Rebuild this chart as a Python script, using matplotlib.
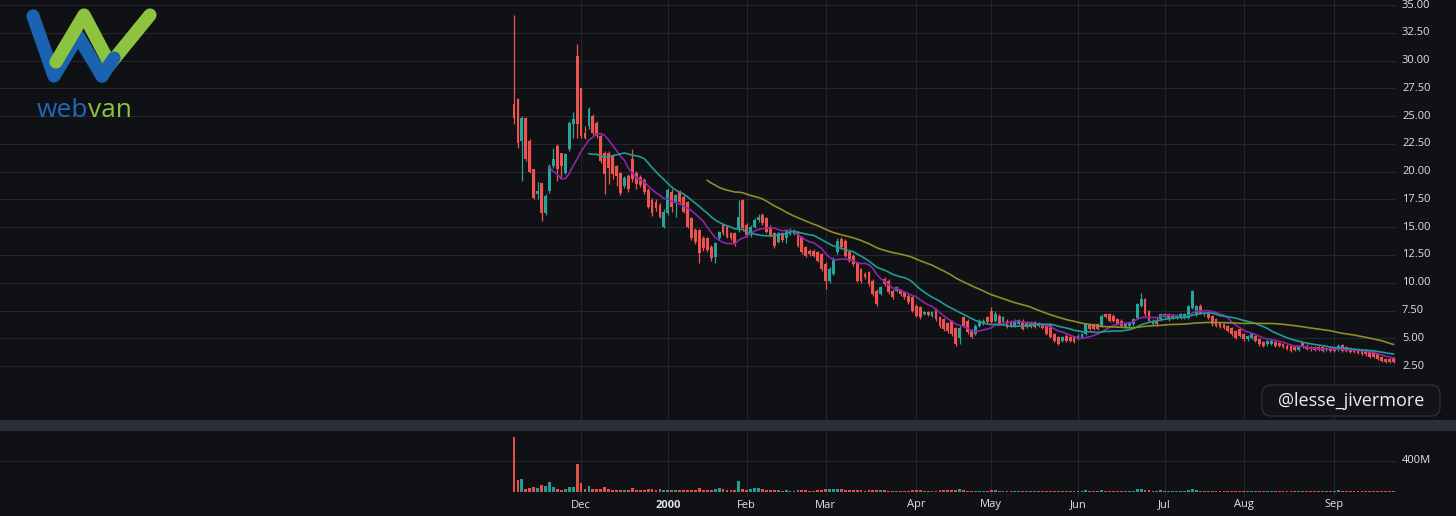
import numpy as np
import pandas as pd
import matplotlib
matplotlib.use("Agg")
import matplotlib.pyplot as plt
from matplotlib.patches import Rectangle, FancyBboxPatch
from matplotlib.transforms import blended_transform_factory

# Webvan (WBVN) daily bars, Nov 5 1999 -> Sep 25 2000
# trading days per month, label shown at first bar of each month
month_labels = ["", "Dec", "2000", "Feb", "Mar", "Apr", "May", "Jun", "Jul", "Aug", "Sep"]
month_bars = [17, 22, 20, 20, 23, 19, 22, 22, 20, 23, 16]

opens = [
    26.05, 26.56, 22.75, 24.85, 22.75, 20.2, 18.0, 18.95, 16.3, 18.25, 20.5, 22.3, 21.65, 19.9, 22.0, 24.25, 30.4,
    27.5, 23.5, 24.1, 25.0, 24.4, 23.2, 21.7, 21.7, 21.4, 20.5, 19.9, 18.7, 19.6, 21.1, 19.9, 19.55, 19.25, 18.35, 17.45, 17.3, 17.0, 15.05,
    16.25, 18.2, 17.15, 18.2, 17.75, 17.3, 15.8, 14.75, 14.75, 14.0, 14.0, 13.25, 12.35, 14.0, 15.2, 15.05, 14.45, 14.5, 14.75, 17.45,
    15.2, 14.3, 15.05, 15.65, 16.1, 15.8, 15.05, 14.45, 13.7, 14.45, 14.0, 14.4, 14.4, 14.55, 14.1, 13.2, 12.9, 12.9, 12.75, 12.6,
    11.7, 10.2, 10.8, 12.75, 13.95, 13.8, 12.75, 12.45, 11.75, 11.25, 10.8, 10.95, 10.2, 9.3, 9.0, 10.35, 10.2, 9.3, 9.3, 9.35, 9.15, 8.85, 8.7,
    7.95, 7.8, 7.2, 7.35, 7.05, 7.65, 6.9, 6.7, 6.4, 6.55, 5.95, 5.0, 6.9, 6.6, 5.7, 5.4, 6.15, 6.3, 6.9,
    7.5, 6.6, 7.05, 6.45, 6.6, 6.55, 6.15, 6.3, 6.6, 6.45, 6.05, 6.45, 6.15, 6.3, 6.3, 6.3, 5.4, 5.1, 4.8, 5.25, 5.15, 5.15,
    4.95, 5.1, 5.4, 6.3, 6.25, 6.25, 6.15, 7.2, 7.2, 7.05, 6.75, 6.6, 6.05, 6.1, 6.25, 6.85, 7.9, 8.5, 7.45, 6.3, 6.6, 6.7,
    6.9, 7.15, 6.8, 6.8, 6.85, 6.8, 6.85, 7.75, 7.15, 7.95, 7.15, 7.3, 7.0, 6.7, 6.4, 6.25, 6.1, 5.95, 5.65, 5.8,
    5.35, 4.9, 5.05, 5.2, 4.95, 4.65, 4.45, 4.5, 4.65, 4.6, 4.5, 4.35, 4.3, 4.2, 3.95, 4.55, 4.35, 4.25, 4.2, 4.2, 4.2, 3.95, 4.1,
    4.1, 3.95, 4.4, 4.2, 4.1, 4.05, 4.05, 3.95, 3.9, 3.85, 3.75, 3.6, 3.3, 3.15, 3.15, 3.2,
]
highs = [
    34.06, 26.65, 25.0, 24.95, 22.9, 20.25, 19.1, 19.0, 18.0, 20.65, 22.15, 22.45, 21.7, 21.65, 24.55, 25.4, 31.45,
    27.55, 24.1, 25.8, 25.2, 24.6, 23.35, 21.85, 21.9, 21.5, 20.6, 20.0, 19.6, 19.8, 22.0, 20.1, 19.7, 19.4, 18.5, 17.6, 17.5, 17.2, 16.6,
    18.5, 18.4, 18.0, 18.35, 17.9, 17.4, 15.9, 14.9, 14.85, 14.2, 14.1, 13.4, 13.7, 14.7, 15.4, 15.2, 14.6, 14.6, 17.45, 17.5,
    15.35, 15.2, 15.8, 16.2, 16.25, 15.9, 15.2, 14.55, 14.6, 14.6, 14.85, 14.9, 14.8, 14.65, 14.2, 13.3, 13.0, 13.05, 12.85, 12.7,
    11.85, 11.4, 12.3, 14.0, 14.1, 13.9, 12.9, 12.6, 11.9, 11.35, 10.95, 11.05, 10.3, 9.4, 9.75, 10.5, 10.3, 9.4, 9.7, 9.45, 9.25, 8.95, 8.8,
    8.05, 7.9, 7.45, 7.45, 7.45, 7.75, 7.0, 6.8, 6.5, 6.65, 6.05, 6.1, 7.0, 6.7, 5.8, 6.25, 6.7, 6.7, 7.0,
    7.8, 7.5, 7.15, 7.0, 6.7, 6.65, 6.7, 6.75, 6.7, 6.55, 6.55, 6.55, 6.45, 6.4, 6.4, 6.4, 5.5, 5.2, 5.2, 5.35, 5.25, 5.25,
    5.35, 5.5, 6.4, 6.4, 6.35, 6.35, 7.15, 7.3, 7.3, 7.15, 6.85, 6.7, 6.45, 6.5, 6.8, 8.2, 9.1, 8.6, 7.55, 6.7, 6.9, 7.3,
    7.3, 7.25, 7.1, 7.15, 7.25, 7.25, 8.0, 9.35, 8.0, 8.05, 7.4, 7.4, 7.1, 6.8, 6.5, 6.35, 6.2, 6.05, 5.75, 5.9,
    5.45, 5.3, 5.45, 5.3, 5.05, 4.75, 4.85, 4.9, 4.75, 4.7, 4.6, 4.45, 4.4, 4.3, 4.35, 4.65, 4.45, 4.35, 4.3, 4.3, 4.3, 4.25, 4.2,
    4.2, 4.45, 4.5, 4.3, 4.2, 4.15, 4.15, 4.05, 4.0, 3.95, 3.85, 3.7, 3.4, 3.25, 3.25, 3.3,
]
lows = [
    24.25, 22.15, 19.15, 20.95, 19.9, 17.5, 17.5, 15.55, 16.1, 18.1, 20.35, 19.15, 19.45, 19.75, 21.85, 23.05, 23.0,
    23.05, 22.9, 23.8, 23.3, 23.0, 20.8, 17.95, 18.85, 19.3, 18.7, 17.9, 18.5, 18.2, 19.1, 18.4, 18.6, 18.0, 16.7, 16.0, 16.5, 15.8, 14.9,
    16.1, 16.4, 15.95, 17.1, 16.25, 14.9, 13.85, 13.5, 11.75, 12.9, 12.8, 12.0, 11.75, 13.85, 14.3, 14.0, 13.85, 13.35, 14.6, 14.7,
    14.1, 14.15, 14.9, 15.5, 15.2, 14.45, 14.15, 13.1, 13.55, 13.7, 13.6, 14.3, 14.3, 13.2, 12.6, 12.3, 12.4, 12.3, 11.85, 11.1,
    9.4, 10.0, 10.7, 12.6, 13.0, 12.3, 11.85, 11.55, 10.05, 10.0, 10.35, 9.75, 8.85, 7.9, 8.9, 9.75, 9.0, 8.55, 9.2, 8.8, 8.55, 8.1, 7.35,
    6.9, 6.75, 7.1, 7.0, 6.95, 6.6, 5.95, 5.65, 5.5, 5.2, 4.3, 4.5, 6.0, 5.4, 5.0, 5.3, 6.05, 6.2, 6.35,
    6.35, 6.5, 6.2, 6.35, 5.9, 6.05, 6.05, 6.2, 5.75, 5.9, 5.95, 5.9, 6.05, 5.85, 5.3, 5.0, 4.7, 4.4, 4.7, 4.7, 4.7, 4.55,
    4.85, 5.0, 5.3, 5.75, 5.75, 5.75, 6.05, 6.8, 6.5, 6.5, 6.2, 6.05, 5.95, 6.0, 6.15, 6.75, 7.8, 7.05, 6.45, 6.2, 6.15, 6.6,
    6.8, 6.6, 6.7, 6.7, 6.75, 6.7, 6.75, 7.65, 7.05, 7.2, 7.05, 6.75, 6.15, 6.0, 5.9, 5.8, 5.6, 5.25, 4.95, 5.1,
    4.8, 4.8, 4.95, 4.65, 4.35, 4.25, 4.35, 4.4, 4.25, 4.2, 4.1, 3.95, 3.75, 3.85, 3.85, 4.1, 3.95, 3.9, 3.85, 3.85, 3.8, 3.85, 3.8,
    3.75, 3.85, 3.8, 3.8, 3.65, 3.65, 3.6, 3.5, 3.45, 3.25, 3.25, 3.05, 2.85, 2.75, 2.75, 2.75,
]
closes = [
    24.85, 22.6, 24.85, 21.1, 20.0, 17.65, 18.25, 16.25, 17.8, 20.5, 21.1, 20.2, 20.5, 21.55, 24.4, 24.7, 24.25,
    23.2, 23.05, 25.6, 23.5, 23.2, 20.95, 19.75, 20.35, 19.75, 19.6, 18.1, 19.45, 18.4, 19.3, 18.85, 18.8, 18.2, 16.85, 16.25, 16.7, 15.95, 16.4,
    18.35, 16.85, 17.9, 17.3, 16.4, 15.05, 14.0, 13.7, 12.65, 13.1, 12.95, 12.2, 13.55, 14.6, 14.45, 14.15, 14.0, 13.5, 15.95, 14.9,
    14.3, 15.05, 15.65, 15.95, 15.35, 14.6, 14.3, 13.3, 14.45, 13.85, 14.7, 14.7, 14.65, 13.35, 12.75, 12.45, 12.55, 12.45, 12.0, 11.25,
    10.2, 11.25, 12.15, 13.8, 13.2, 12.45, 12.0, 11.7, 10.2, 10.2, 10.5, 9.9, 9.0, 8.1, 9.65, 9.9, 9.15, 8.7, 9.6, 8.95, 8.7, 8.25, 7.5,
    7.05, 6.9, 7.35, 7.1, 7.35, 6.75, 6.1, 5.8, 5.65, 5.35, 4.45, 5.9, 6.15, 5.55, 5.1, 6.15, 6.6, 6.6, 6.45,
    6.45, 7.2, 6.3, 6.9, 6.0, 6.15, 6.6, 6.65, 5.85, 6.0, 6.45, 6.0, 6.35, 5.95, 5.4, 5.1, 4.8, 4.5, 5.1, 4.8, 4.8, 4.65,
    5.25, 5.4, 6.3, 5.85, 5.85, 5.85, 7.05, 6.9, 6.6, 6.6, 6.3, 6.15, 6.35, 6.4, 6.7, 8.05, 8.5, 7.15, 6.55, 6.6, 6.25, 7.2,
    7.2, 6.7, 7.0, 7.05, 7.15, 7.15, 7.9, 9.25, 7.9, 7.3, 7.3, 6.85, 6.25, 6.1, 6.0, 5.9, 5.7, 5.35, 5.05, 5.2,
    4.9, 5.2, 5.35, 4.75, 4.45, 4.35, 4.75, 4.8, 4.35, 4.3, 4.2, 4.05, 3.85, 3.95, 4.3, 4.2, 4.05, 4.0, 3.95, 3.95, 3.9, 4.15, 3.9,
    3.85, 4.35, 3.9, 3.9, 3.75, 3.75, 3.7, 3.6, 3.55, 3.35, 3.35, 3.15, 2.95, 2.85, 2.85, 2.85,
]
# volume in millions of shares
volumes = [
    710, 150, 172, 43, 56, 65, 52, 95, 77, 125, 65, 34, 22, 34, 60, 60, 365,
    116, 43, 73, 39, 43, 43, 65, 35, 28, 30, 25, 30, 22, 52, 25, 22, 25, 35, 40, 30, 35, 28,
    30, 25, 22, 20, 22, 30, 32, 28, 52, 30, 25, 28, 40, 52, 35, 25, 20, 22, 146, 43,
    30, 45, 50, 48, 40, 25, 20, 22, 20, 18, 20, 18, 18, 22, 25, 20, 18, 18, 22, 25,
    43, 45, 45, 40, 35, 25, 20, 20, 25, 22, 18, 25, 28, 30, 22, 20, 18, 18, 15, 15, 15, 18, 22,
    25, 22, 18, 16, 16, 18, 22, 22, 20, 22, 30, 39, 22, 18, 18, 18, 16, 16, 16,
    20, 22, 16, 15, 15, 15, 15, 15, 16, 15, 15, 15, 13, 13, 15, 18, 18, 18, 15, 15, 13, 15,
    15, 16, 22, 16, 15, 15, 25, 16, 16, 15, 15, 15, 15, 15, 16, 45, 40, 30, 22, 18, 16, 30,
    16, 15, 15, 15, 15, 16, 22, 39, 22, 18, 15, 15, 16, 15, 15, 15, 15, 16, 16, 15,
    15, 13, 13, 13, 15, 13, 13, 13, 13, 13, 13, 13, 15, 13, 13, 13, 13, 12, 12, 12, 12, 12, 12,
    12, 30, 15, 12, 12, 12, 12, 12, 12, 13, 12, 13, 13, 13, 13, 13,
]
ma_periods = [10, 20, 50]

# ---- style ----
W, H = 1456, 516
BG = "#101115"
GRID = "#23262f"
TXT = "#dfe2ea"
UP, DOWN = "#26a69a", "#ef5350"
MA_COLORS = ["#8e24aa", "#1f9c98", "#8f8d25"]
FIRST_PX, BAR_PX = 514, 3.944      # x pixel of first bar and bar spacing
PX_PER_USD = 11.11                 # price scale: 35.00 sits at y=5 px
PX_PER_MVOL = 1 / 12.9             # volume scale: baseline y=492 px

df = pd.DataFrame({"open": opens, "high": highs, "low": lows, "close": closes, "volume": volumes})
n = len(df)
idx = np.arange(n)
up = df["close"] >= df["open"]
colors = np.where(up, UP, DOWN)
starts = np.cumsum([0] + month_bars[:-1])

fig = plt.figure(figsize=(W / 100, H / 100), dpi=100, facecolor=BG)
right = 1396
xlim = (-FIRST_PX / BAR_PX, (right - FIRST_PX) / BAR_PX)

# ---- price pane ----
ax = fig.add_axes([0, 1 - 420 / H, right / W, 420 / H])
ax.set_facecolor(BG)
ax.set_xlim(*xlim)
ax.set_ylim(35 - (420 - 5) / PX_PER_USD, 35 + 5 / PX_PER_USD)
ax.set_axis_off()
price_ticks = np.arange(2.5, 35.01, 2.5)
for p in price_ticks:
    ax.axhline(p, color=GRID, lw=0.8, zorder=0)
for s, lab in zip(starts, month_labels):
    if lab:
        ax.axvline(s, color=GRID, lw=0.8, zorder=0)

ax.vlines(idx, df["low"], df["high"], colors=colors, lw=0.9, zorder=2)
body = (df["close"] - df["open"]).abs().clip(lower=0.06)
ax.bar(idx, body, bottom=df[["open", "close"]].min(axis=1), width=0.72,
       color=colors, linewidth=0, zorder=3)

for per, c in zip(ma_periods, MA_COLORS):
    ma = df["close"].rolling(per).mean()
    ax.plot(idx, ma, color=c, lw=1.2, zorder=4)

# ---- volume pane ----
axv = fig.add_axes([0, 1 - 497 / H, right / W, 65 / H])
axv.set_facecolor(BG)
axv.set_xlim(*xlim)
axv.set_ylim(-5 / PX_PER_MVOL, 60 / PX_PER_MVOL)
axv.set_axis_off()
axv.axhline(400, color=GRID, lw=0.8, zorder=0)
for s, lab in zip(starts, month_labels):
    if lab:
        axv.axvline(s, color=GRID, lw=0.8, zorder=0)
axv.bar(idx, df["volume"], width=0.72, color=colors, linewidth=0, alpha=0.95, zorder=2)

# ---- overlay in pixel coordinates ----
ov = fig.add_axes([0, 0, 1, 1])
ov.set_xlim(0, W)
ov.set_ylim(H, 0)
ov.set_axis_off()
ov.patch.set_alpha(0)

ov.add_patch(Rectangle((0, 420), W, 11, color="#2a2e39", lw=0))

# price scale labels
tr_price = blended_transform_factory(ov.transData, ax.transData)
for p in price_ticks:
    ov.text(1402, p, f"{p:.2f}", transform=tr_price, color=TXT, fontsize=8,
            family="Open Sans", ha="left", va="center")
tr_vol = blended_transform_factory(ov.transData, axv.transData)
ov.text(1402, 400, "400M", transform=tr_vol, color=TXT, fontsize=8,
        family="Open Sans", ha="left", va="center")

# time axis labels
tr_time = blended_transform_factory(axv.transData, ov.transData)
for s, lab in zip(starts, month_labels):
    if lab:
        ov.text(s, 505, lab, transform=tr_time, color=TXT, fontsize=8, family="Open Sans",
                ha="center", va="center", fontweight="bold" if lab == "2000" else "normal")

# watermark
ov.add_patch(FancyBboxPatch((1262, 385), 178, 31, boxstyle="round,pad=0,rounding_size=9",
                            fc="#131418", ec="#2a2e39", lw=1))
ov.text(1351, 400.5, "@lesse_jivermore", color="#ececec", fontsize=13, family="Open Sans",
        ha="center", va="center")

# webvan logo
blue, green = "#1b63b0", "#8cc43f"
ov.plot([33, 54, 78, 102], [16, 76, 36, 76], color=blue, lw=9.5,
        solid_capstyle="round", solid_joinstyle="round")
ov.plot([56, 84, 110, 150], [62, 15, 64, 15], color=green, lw=9.5,
        solid_capstyle="round", solid_joinstyle="round")
ov.plot([102, 114], [76, 58], color=blue, lw=9.5, solid_capstyle="round")
ov.text(88, 117, "web", color="#1e6ab8", fontsize=19, family="Open Sans",
        ha="right", va="baseline")
ov.text(88, 117, "van", color=green, fontsize=19, family="Open Sans",
        ha="left", va="baseline")

fig.savefig("out.png", dpi=100, facecolor=BG)
